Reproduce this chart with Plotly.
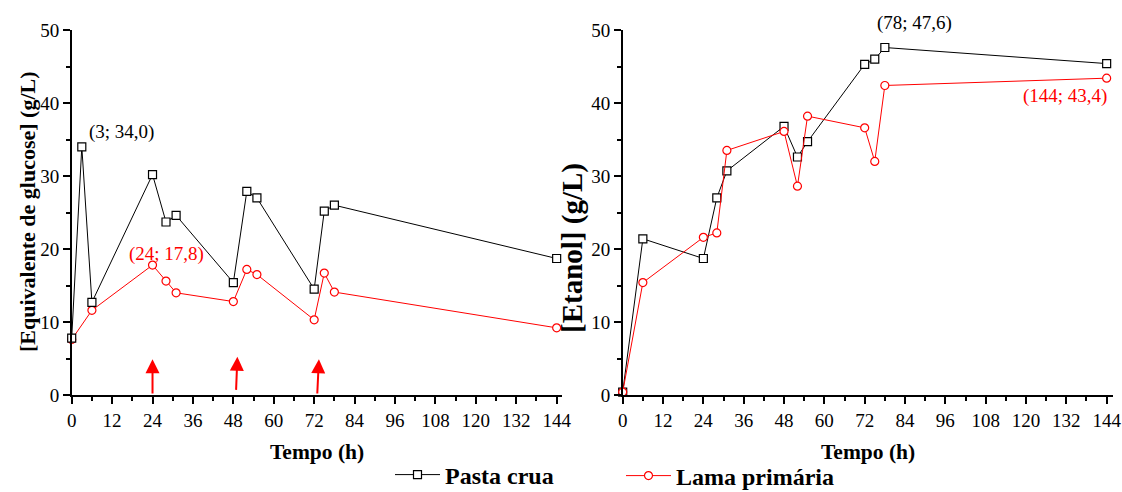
import plotly.graph_objects as go

# Sampling times (h)
t_glc_pasta = [0, 3, 6, 24, 28, 31, 48, 52, 55, 72, 75, 78, 144]
t_glc_lama = [0, 6, 24, 28, 31, 48, 52, 55, 72, 75, 78, 144]
t_etoh = [0, 6, 24, 28, 31, 48, 52, 55, 72, 75, 78, 144]

# Glucose equivalent (g/L)
glc_pasta = [7.8, 34.0, 12.7, 30.2, 23.7, 24.6, 15.4, 27.9, 27.0, 14.5, 25.2, 26.0, 18.7]
glc_lama = [7.6, 11.6, 17.8, 15.6, 14.0, 12.8, 17.2, 16.5, 10.3, 16.7, 14.1, 9.2]

# Ethanol (g/L)
etoh_pasta = [0.4, 21.4, 18.7, 27.0, 30.7, 36.8, 32.6, 34.7, 45.3, 46.0, 47.6, 45.4]
etoh_lama = [0.4, 15.4, 21.6, 22.2, 33.5, 36.1, 28.6, 38.2, 36.6, 32.0, 42.4, 43.4]

# Feeding times marked with arrows: (x_tail, y_tail, x_head, y_head)
feed_arrows = [(24.0, 0.0, 24.0, 4.9), (48.8, 0.5, 49.2, 5.25), (72.9, 0.0, 73.4, 4.9)]

SERIF = '"Liberation Serif", "Times New Roman", Times, serif'
BLACK = "#000000"
RED = "#ff0000"
W, H = 1122, 492

fig = go.Figure()


def series(x, y, color, symbol, name, xa, ya, legend, show):
    return go.Scatter(
        x=x, y=y, xaxis=xa, yaxis=ya, name=name, mode="lines+markers",
        line=dict(color=color, width=1),
        marker=dict(symbol=symbol, size=8, color="white",
                    line=dict(color=color, width=1.2)),
        cliponaxis=False, showlegend=show, legend=legend,
    )


fig.add_trace(series(t_glc_lama, glc_lama, RED, "circle", "Lama primária", "x", "y", "legend2", True))
fig.add_trace(series(t_glc_pasta, glc_pasta, BLACK, "square", "Pasta crua", "x", "y", "legend", True))
fig.add_trace(series(t_etoh, etoh_pasta, BLACK, "square", "Pasta crua", "x2", "y2", "legend", False))
fig.add_trace(series(t_etoh, etoh_lama, RED, "circle", "Lama primária", "x2", "y2", "legend2", False))

tickfont = dict(family=SERIF, size=19, color=BLACK)


def xaxis(domain, anchor, rng):
    return dict(domain=domain, anchor=anchor, range=rng, tick0=0, dtick=12,
                showline=True, linecolor=BLACK, linewidth=1.5, ticks="outside",
                ticklen=7, tickwidth=1.5, tickcolor=BLACK, tickfont=tickfont,
                showgrid=False, zeroline=False,
                minor=dict(dtick=6, ticks="outside", ticklen=4, tickwidth=1.5,
                           tickcolor=BLACK, showgrid=False))


def yaxis(anchor):
    return dict(domain=[(H - 395) / H, (H - 30) / H], anchor=anchor, range=[0, 50],
                tick0=0, dtick=10, showline=True, linecolor=BLACK, linewidth=1.5,
                ticks="outside", ticklen=7, tickwidth=1.5, tickcolor=BLACK,
                tickfont=tickfont, showgrid=False, zeroline=False,
                minor=dict(dtick=5, ticks="outside", ticklen=4, tickwidth=1.5,
                           tickcolor=BLACK, showgrid=False))


annotations = []
title_font = dict(family=SERIF, size=21.5, color=BLACK, weight="bold")
for cx in (317, 868):
    annotations.append(dict(text="Tempo (h)", x=cx / W, y=1 - 452 / H, xref="paper", yref="paper",
                            showarrow=False, font=title_font, xanchor="center", yanchor="middle"))
annotations.append(dict(text="[Equivalente de glucose] (g/L)", x=27 / W, y=1 - 212 / H,
                        xref="paper", yref="paper", showarrow=False, textangle=-90,
                        font=dict(family=SERIF, size=22, color=BLACK, weight="bold"),
                        xanchor="center", yanchor="middle"))
annotations.append(dict(text="[Etanol] (g/L)", x=573 / W, y=1 - 248 / H,
                        xref="paper", yref="paper", showarrow=False, textangle=-90,
                        font=dict(family=SERIF, size=29, color=BLACK, weight="bold"),
                        xanchor="center", yanchor="middle"))

# Value labels at selected points
label_font = 19


def value_label(xv, yv, color, xref, yref, xanchor, xshift, yshift):
    txt = "(%g; %s)" % (xv, ("%.1f" % yv).replace(".", ","))
    return dict(text=txt, x=xv, y=yv, xref=xref, yref=yref, showarrow=False,
                font=dict(family=SERIF, size=label_font, color=color),
                xanchor=xanchor, yanchor="middle", xshift=xshift, yshift=yshift)


annotations.append(value_label(t_glc_pasta[1], glc_pasta[1], BLACK, "x", "y", "left", 5, 15))
annotations.append(value_label(t_glc_lama[2], glc_lama[2], RED, "x", "y", "center", 14, 11))
annotations.append(value_label(t_etoh[10], etoh_pasta[10], BLACK, "x2", "y2", "center", 30, 25))
annotations.append(value_label(t_etoh[11], etoh_lama[11], RED, "x2", "y2", "right", 2, -18))

for x0, y0, x1, y1 in feed_arrows:
    annotations.append(dict(text="", x=x1, y=y1, ax=x0, ay=y0, xref="x", yref="y",
                            axref="x", ayref="y", showarrow=True, arrowhead=2,
                            arrowwidth=2, arrowsize=1.4, arrowcolor=RED))

legend_font = dict(family=SERIF, size=24, color=BLACK, weight="bold")

fig.update_layout(
    width=W, height=H,
    margin=dict(l=0, r=0, t=0, b=0, autoexpand=False),
    paper_bgcolor="white", plot_bgcolor="white",
    xaxis=xaxis([71.7 / W, 561.7 / W], "y", [0, 145.5]),
    yaxis=yaxis("x"),
    xaxis2=xaxis([622.7 / W, 1112.7 / W], "y2", [0, 145.8]),
    yaxis2=yaxis("x2"),
    annotations=annotations,
    legend=dict(x=390 / W, y=1 - 475 / H, xanchor="left", yanchor="middle",
                bgcolor="rgba(0,0,0,0)", font=legend_font, itemwidth=45,
                orientation="h"),
    legend2=dict(x=621 / W, y=1 - 476 / H, xanchor="left", yanchor="middle",
                 bgcolor="rgba(0,0,0,0)", font=legend_font, itemwidth=45,
                 orientation="h"),
)

fig.write_html("out.html")
